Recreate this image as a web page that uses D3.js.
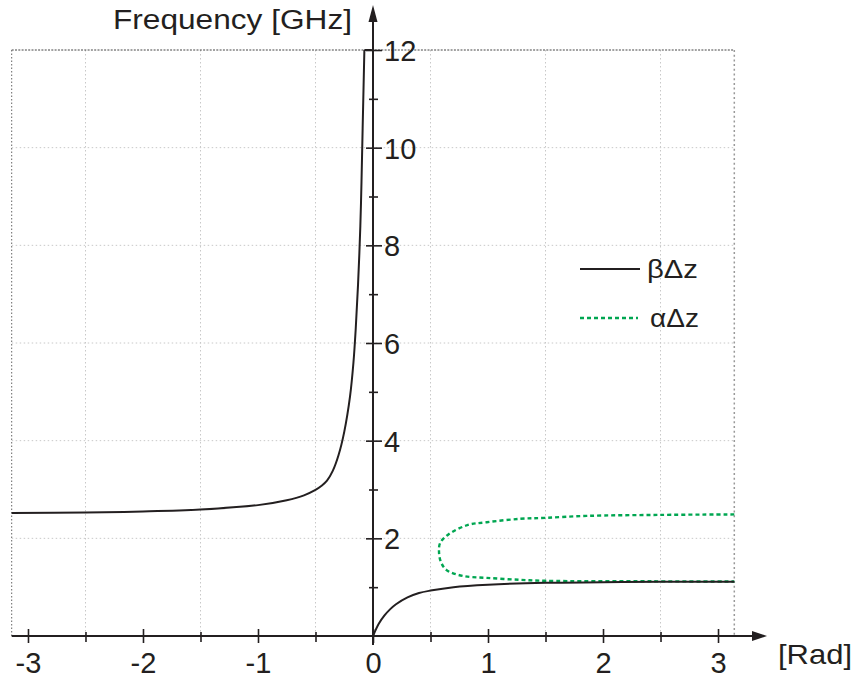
<!DOCTYPE html>
<html>
<head>
    <meta charset="utf-8">
    <script src="https://cdn.jsdelivr.net/npm/d3@7"></script>
    <title>Dispersion diagram</title>
    <style>
        body { margin: 0; background: #fff; }
        text { font-family: "Liberation Sans", Arial, sans-serif; fill: #231f20; }
    </style>
</head>
<body>
<script>
    // data: [phase (rad), frequency (GHz)]
    var betaLeft = [
        [-3.1416, 2.52], [-2.5, 2.53], [-2, 2.55], [-1.5, 2.59], [-1, 2.68],
        [-0.75, 2.78], [-0.6, 2.88], [-0.5, 2.99], [-0.45, 3.07], [-0.4, 3.18],
        [-0.35, 3.38], [-0.3, 3.7], [-0.25, 4.18], [-0.2, 4.9], [-0.17, 5.6],
        [-0.15, 6.3], [-0.13, 7.2], [-0.11, 8.4], [-0.1, 9.3], [-0.09, 10.4],
        [-0.075, 12]
    ];
    var betaTop = [[-0.075, 12], [-0.01, 12]];
    var betaRight = [
        [0, 0], [0.05, 0.25], [0.1, 0.42], [0.15, 0.55], [0.2, 0.65],
        [0.3, 0.79], [0.4, 0.88], [0.5, 0.93], [0.7, 1.0], [1, 1.05],
        [1.5, 1.09], [2, 1.1], [2.5, 1.11], [3.1416, 1.11]
    ];
    var alphaPts = [
        [3.1416, 2.49], [2.5, 2.48], [1.86, 2.46], [1.5, 2.42], [1.28, 2.4],
        [0.99, 2.33], [0.82, 2.27], [0.65, 2.07], [0.583, 1.9], [0.574, 1.72],
        [0.59, 1.52], [0.64, 1.35], [0.78, 1.23], [0.99, 1.19], [1.28, 1.15],
        [1.5, 1.13], [2.43, 1.12], [3.1416, 1.115]
    ];
    var xMajor = [-3, -2, -1, 0, 1, 2, 3];
    var xMinor = [-2.5, -1.5, -0.5, 0.5, 1.5, 2.5];
    var yMajor = [2, 4, 6, 8, 10, 12];
    var yMinor = [1, 3, 5, 7, 9, 11];
    var legendNames = ["\u03b2\u0394z", "\u03b1\u0394z"];

    var width = 857, height = 682;
    var green = "#00a651", ink = "#231f20";

    var xScale = d3.scaleLinear().domain([-Math.PI, Math.PI]).range([11.7, 734.3]);
    var yScale = d3.scaleLinear().domain([0, 12]).range([636, 50]);
    var x0 = xScale(0), y0 = yScale(0);

    var svg = d3.select("body").append("svg")
        .attr("width", width)
        .attr("height", height);

    // grid
    svg.append("g").selectAll("line").data(xMinor).enter().append("line")
        .attr("x1", function(d){ return xScale(d); })
        .attr("x2", function(d){ return xScale(d); })
        .attr("y1", yScale(12)).attr("y2", y0)
        .attr("stroke", "#c8c8c8").attr("stroke-width", 1)
        .attr("stroke-dasharray", "1.5,2.5");
    svg.append("g").selectAll("line").data([2, 4, 6, 8, 10]).enter().append("line")
        .attr("y1", function(d){ return yScale(d); })
        .attr("y2", function(d){ return yScale(d); })
        .attr("x1", xScale(-Math.PI)).attr("x2", xScale(Math.PI))
        .attr("stroke", "#c8c8c8").attr("stroke-width", 1)
        .attr("stroke-dasharray", "1.5,2.5");

    // dotted frame
    svg.append("line")
        .attr("x1", xScale(-Math.PI)).attr("x2", xScale(Math.PI))
        .attr("y1", yScale(12)).attr("y2", yScale(12))
        .attr("stroke", "#444").attr("stroke-width", 1).attr("stroke-dasharray", "2,1.3");
    svg.append("line")
        .attr("x1", xScale(-Math.PI)).attr("x2", xScale(-Math.PI))
        .attr("y1", yScale(12)).attr("y2", y0)
        .attr("stroke", "#666").attr("stroke-width", 1).attr("stroke-dasharray", "1.5,2");
    svg.append("line")
        .attr("x1", xScale(Math.PI)).attr("x2", xScale(Math.PI))
        .attr("y1", yScale(12)).attr("y2", y0)
        .attr("stroke", "#999").attr("stroke-width", 1.5).attr("stroke-dasharray", "2,2.7");

    // curves
    var line = d3.line()
        .x(function(d){ return xScale(d[0]); })
        .y(function(d){ return yScale(d[1]); });

    svg.append("path").datum(alphaPts)
        .attr("d", line.curve(d3.curveCatmullRom.alpha(0.5)))
        .attr("fill", "none").attr("stroke", green).attr("stroke-width", 2.4)
        .attr("stroke-dasharray", "4,3");

    [betaLeft, betaTop, betaRight].forEach(function(seg){
        svg.append("path").datum(seg)
            .attr("d", line.curve(d3.curveCatmullRom.alpha(0.5)))
            .attr("fill", "none").attr("stroke", ink).attr("stroke-width", 2);
    });

    // plain hyphen for negatives, like the original
    var fmt = function(d){ return String(d); };

    // x axis
    var xAxis = d3.axisBottom(xScale).tickValues(xMajor).tickSize(14).tickPadding(0)
        .tickFormat(fmt);
    var gx = svg.append("g").attr("transform", "translate(0," + y0 + ")").call(xAxis);
    gx.select(".domain").remove();
    gx.selectAll(".tick line").attr("y1", -7).attr("y2", 7)
        .attr("stroke", ink).attr("stroke-width", 1.6);
    gx.selectAll(".tick text").attr("y", 37).attr("dy", null)
        .style("font-size", "29px").attr("fill", ink);

    var xAxisMinor = d3.axisBottom(xScale).tickValues(xMinor).tickSize(10).tickFormat("");
    var gxm = svg.append("g").attr("transform", "translate(0," + y0 + ")").call(xAxisMinor);
    gxm.select(".domain").remove();
    gxm.selectAll(".tick line").attr("y1", -4).attr("y2", 6)
        .attr("stroke", ink).attr("stroke-width", 1.6);

    // y axis
    var yAxis = d3.axisRight(yScale).tickValues(yMajor).tickSize(16).tickPadding(0)
        .tickFormat(fmt);
    var gy = svg.append("g").attr("transform", "translate(" + x0 + ",0)").call(yAxis);
    gy.select(".domain").remove();
    gy.selectAll(".tick line").attr("x1", -7).attr("x2", 9)
        .attr("stroke", ink).attr("stroke-width", 1.6);
    gy.selectAll(".tick text").attr("x", 11).attr("dy", "0.36em")
        .style("font-size", "29px").attr("fill", ink);

    var yAxisMinor = d3.axisRight(yScale).tickValues(yMinor).tickSize(10).tickFormat("");
    var gym = svg.append("g").attr("transform", "translate(" + x0 + ",0)").call(yAxisMinor);
    gym.select(".domain").remove();
    gym.selectAll(".tick line").attr("x1", -4).attr("x2", 5)
        .attr("stroke", ink).attr("stroke-width", 1.6);

    // axis lines with arrows
    svg.append("line")
        .attr("x1", xScale(-Math.PI)).attr("x2", 755)
        .attr("y1", y0).attr("y2", y0)
        .attr("stroke", ink).attr("stroke-width", 2);
    svg.append("path")
        .attr("d", "M767," + y0 + " L752," + (y0 - 5) + " L752," + (y0 + 5) + " Z")
        .attr("fill", ink);
    svg.append("line")
        .attr("x1", x0).attr("x2", x0)
        .attr("y1", y0 + 9).attr("y2", 18)
        .attr("stroke", ink).attr("stroke-width", 2);
    svg.append("path")
        .attr("d", "M" + x0 + ",5 L" + (x0 - 4.5) + ",22 L" + (x0 + 4.5) + ",22 Z")
        .attr("fill", ink);

    // axis titles
    svg.append("text").attr("x", 113).attr("y", 29)
        .attr("textLength", 239).attr("lengthAdjust", "spacingAndGlyphs")
        .style("font-size", "27px")
        .text("Frequency [GHz]");
    svg.append("text").attr("x", 778).attr("y", 664)
        .attr("textLength", 74).attr("lengthAdjust", "spacingAndGlyphs")
        .style("font-size", "28px")
        .text("[Rad]");

    // legend
    var legend = svg.append("g");
    legend.append("line").attr("x1", 580).attr("x2", 640).attr("y1", 269).attr("y2", 269)
        .attr("stroke", ink).attr("stroke-width", 2);
    legend.append("line").attr("x1", 580).attr("x2", 638).attr("y1", 318).attr("y2", 318)
        .attr("stroke", green).attr("stroke-width", 2.4).attr("stroke-dasharray", "4,3");
    legend.append("text").attr("x", 647).attr("y", 278)
        .attr("textLength", 51).attr("lengthAdjust", "spacingAndGlyphs")
        .style("font-size", "26px").text(legendNames[0]);
    legend.append("text").attr("x", 650).attr("y", 327)
        .attr("textLength", 49).attr("lengthAdjust", "spacingAndGlyphs")
        .style("font-size", "26px").text(legendNames[1]);
</script>
</body>
</html>
